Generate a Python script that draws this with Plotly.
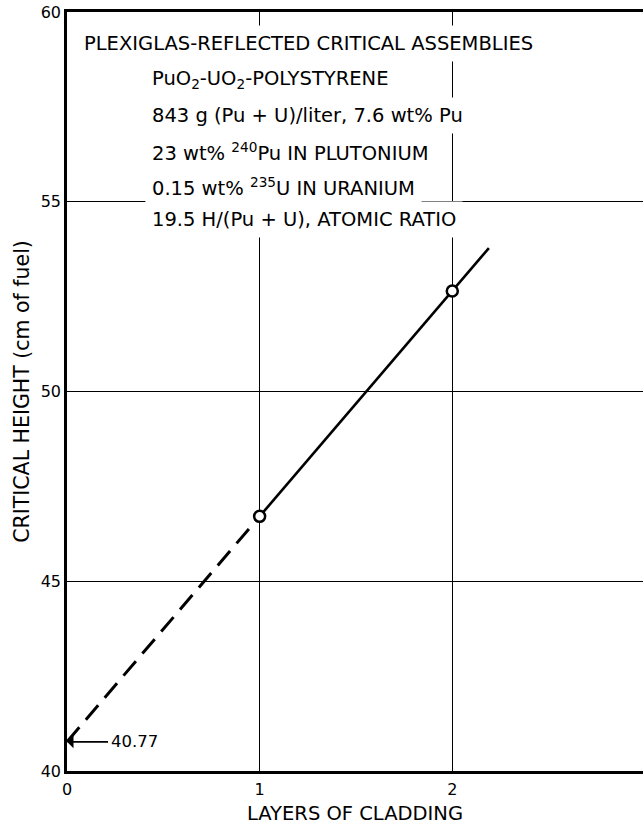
import plotly.graph_objects as go

# Data
layers_measured = [1, 2]
height_measured = [46.71, 52.65]
extrap_x = [0, 1]
extrap_y = [40.77, 46.71]
fit_x = [1, 2.19]
fit_y = [46.71, 53.78]
intercept_label = "40.77"

x_ticks = [0, 1, 2]
y_ticks = [40, 45, 50, 55, 60]

info_lines = [
    "PLEXIGLAS-REFLECTED CRITICAL ASSEMBLIES",
    "PuO<sub>2</sub>-UO<sub>2</sub>-POLYSTYRENE",
    "843 g (Pu + U)/liter, 7.6 wt% Pu",
    "23 wt% <sup>240</sup>Pu IN PLUTONIUM",
    "0.15 wt% <sup>235</sup>U IN URANIUM",
    "19.5 H/(Pu + U), ATOMIC RATIO",
]
info_x = [0.05, 0.405, 0.405, 0.405, 0.405, 0.405]
info_y = [59.16, 58.22, 57.27, 56.31, 55.39, 54.52]

FONT = "DejaVu Sans"

fig = go.Figure()
fig.add_trace(go.Scatter(x=extrap_x, y=extrap_y, mode="lines",
                         line=dict(color="black", width=3, dash="19px,10px"),
                         showlegend=False, hoverinfo="skip"))
fig.add_trace(go.Scatter(x=fit_x, y=fit_y, mode="lines",
                         line=dict(color="black", width=2.6),
                         showlegend=False, hoverinfo="skip"))
fig.add_trace(go.Scatter(x=layers_measured, y=height_measured, mode="markers",
                         marker=dict(symbol="circle", size=11, color="white",
                                     line=dict(color="black", width=2.5)),
                         showlegend=False))

annotations = []
for t, xx, yy in zip(info_lines, info_x, info_y):
    annotations.append(dict(x=xx, y=yy, xref="x", yref="y", text=t,
                            showarrow=False, xanchor="left", yanchor="middle",
                            bgcolor="white", borderpad=6,
                            font=dict(family=FONT, size=19.5, color="black")))
annotations.append(dict(x=0, y=extrap_y[0], xref="x", yref="y",
                        text=intercept_label, showarrow=True,
                        arrowhead=1, arrowsize=1.2, arrowwidth=1.8,
                        arrowcolor="black", ax=41, ay=0, xanchor="left",
                        borderpad=2,
                        font=dict(family=FONT, size=16.5, color="black")))

fig.update_layout(
    width=643, height=825,
    margin=dict(l=67, r=0, t=12, b=54, autoexpand=False),
    paper_bgcolor="white", plot_bgcolor="white",
    font=dict(family=FONT, size=16, color="black"),
    annotations=annotations,
)
fig.update_xaxes(range=[0, 2.99], tickvals=x_ticks, showgrid=True,
                 gridcolor="black", gridwidth=1.3, zeroline=False,
                 showline=True, linecolor="black", linewidth=2.5, mirror=True,
                 ticks="", ticklabelstandoff=2, automargin=False,
                 tickfont=dict(family=FONT, size=16, color="black"),
                 title=dict(text="LAYERS OF CLADDING", standoff=11,
                            font=dict(family=FONT, size=19.5, color="black")))
fig.update_yaxes(range=[40, 60], tickvals=y_ticks, showgrid=True,
                 gridcolor="black", gridwidth=1.3, zeroline=False,
                 showline=True, linecolor="black", linewidth=2.5,
                 ticks="", ticklabelstandoff=0, automargin=False,
                 tickfont=dict(family=FONT, size=16, color="black"),
                 title=dict(text="CRITICAL HEIGHT (cm of fuel)", standoff=6,
                            font=dict(family=FONT, size=20.5, color="black")))

fig.write_html("out.html", config={"displayModeBar": False},
               post_script="document.body.style.margin='0';document.body.style.padding='0';")
